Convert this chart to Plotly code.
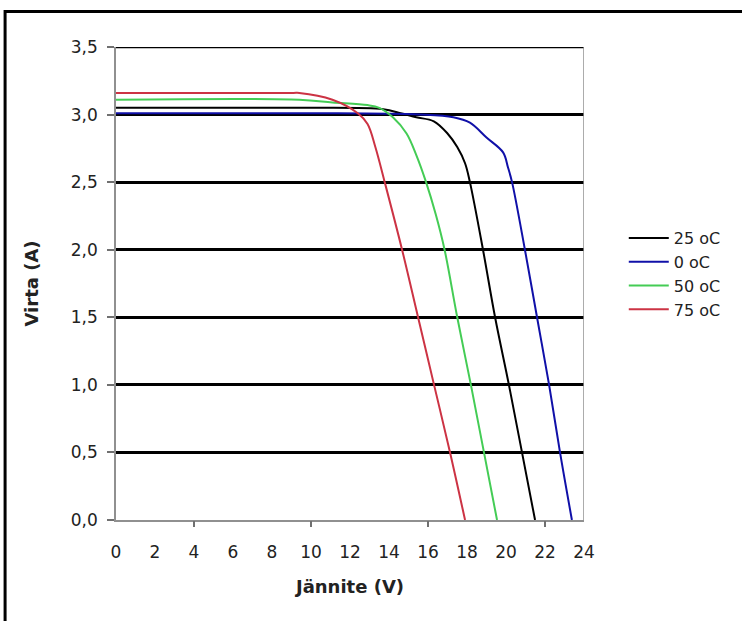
import plotly.graph_objects as go

# Voltage (V) / current (A) readings per temperature
v_25 = [0, 9.0, 13.7, 14.6, 15.4, 16.3, 17.0, 17.5, 17.9, 18.15, 18.82, 19.44, 20.15, 20.82, 21.49]
i_25 = [3.05, 3.05, 3.04, 3.01, 2.98, 2.95, 2.86, 2.76, 2.64, 2.50, 2.00, 1.50, 1.00, 0.50, 0.0]

v_0 = [0, 10.0, 15.6, 17.3, 18.15, 19.0, 19.85, 20.1, 20.31, 20.97, 21.59, 22.21, 22.77, 23.38]
i_0 = [3.01, 3.01, 3.00, 2.98, 2.94, 2.83, 2.72, 2.61, 2.50, 2.00, 1.50, 1.00, 0.50, 0.0]

v_50 = [0, 9.4, 11.1, 12.9, 13.5, 14.2, 14.9, 15.4, 15.9, 16.4, 16.85, 17.5, 18.2, 18.87, 19.54]
i_50 = [3.11, 3.11, 3.09, 3.07, 3.05, 2.98, 2.86, 2.70, 2.50, 2.26, 2.00, 1.50, 1.00, 0.50, 0.0]

v_75 = [0, 9.1, 9.4, 11.1, 12.4, 12.9, 13.3, 13.78, 14.67, 15.49, 16.31, 17.13, 17.9]
i_75 = [3.16, 3.16, 3.16, 3.11, 3.01, 2.93, 2.76, 2.50, 2.00, 1.50, 1.00, 0.50, 0.0]

series_names = ["25 oC", "0 oC", "50 oC", "75 oC"]
series_colors = ["#000000", "#1010a8", "#44cc55", "#cc3344"]

x_ticks = list(range(0, 25, 2))
x_minor_ticks = [4, 10, 16, 22]
y_ticks = [0, 0.5, 1.0, 1.5, 2.0, 2.5, 3.0, 3.5]

FONT = "DejaVu Sans"

fig = go.Figure()
for (vx, iy), name, col in zip([(v_25, i_25), (v_0, i_0), (v_50, i_50), (v_75, i_75)],
                               series_names, series_colors):
    fig.add_trace(go.Scatter(x=vx, y=iy, mode="lines", name=name,
                             line=dict(color=col, width=2, shape="spline", smoothing=1.0)))

# invisible trace to carry the tick-mark axis
fig.add_trace(go.Scatter(x=[0, 24], y=[0, 0], xaxis="x2", mode="lines",
                         line=dict(width=0), showlegend=False, hoverinfo="skip"))

fig.update_layout(
    width=742, height=621,
    margin=dict(l=116, r=158, t=47, b=101),
    paper_bgcolor="white", plot_bgcolor="white",
    separators=", ",
    font=dict(family=FONT, size=17, color="#222222"),
    showlegend=True,
    legend=dict(x=1.085, y=0.632, xanchor="left", yanchor="top",
                font=dict(family=FONT, size=16, color="#222222"),
                bgcolor="rgba(0,0,0,0)", tracegroupgap=0, itemwidth=40),
    xaxis=dict(range=[0, 24], tickmode="array", tickvals=x_ticks,
               ticks="", showgrid=False, zeroline=False,
               showline=True, linecolor="#909090", linewidth=1.5,
               ticklabelstandoff=16,
               title=dict(text="<b>Jännite (V)</b>", font=dict(family=FONT, size=18, color="#222222"),
                          standoff=19)),
    xaxis2=dict(range=[0, 24], overlaying="x", anchor="y", side="bottom",
                tickmode="array", tickvals=x_minor_ticks, ticks="outside",
                ticklen=6, tickcolor="#707070", tickwidth=1.5,
                showticklabels=False, showgrid=False, zeroline=False, showline=False),
    yaxis=dict(range=[0, 3.5], tickmode="array", tickvals=y_ticks, tickformat=".1f",
               ticks="outside", ticklen=7, tickcolor="#707070", tickwidth=1.5,
               showgrid=True, gridcolor="#000000", gridwidth=2.5,
               zeroline=False, showline=True, linecolor="#909090", linewidth=1.5,
               ticklabelstandoff=6,
               title=dict(text="<b>Virta (A)</b>", font=dict(family=FONT, size=18, color="#222222"),
                          standoff=28)),
    shapes=[
        dict(type="line", xref="x", yref="y", x0=24, x1=24, y0=0, y1=3.5,
             line=dict(color="#909090", width=1.5)),
        dict(type="line", xref="x", yref="y", x0=0, x1=24, y0=3.5, y1=3.5,
             line=dict(color="#000000", width=2.5), layer="below"),
        dict(type="rect", xref="paper", yref="paper", x0=-0.237, x1=1.6, y0=-0.5, y1=1.075,
             line=dict(color="#000000", width=3), layer="below"),
    ],
)

fig.write_html("out.html")
